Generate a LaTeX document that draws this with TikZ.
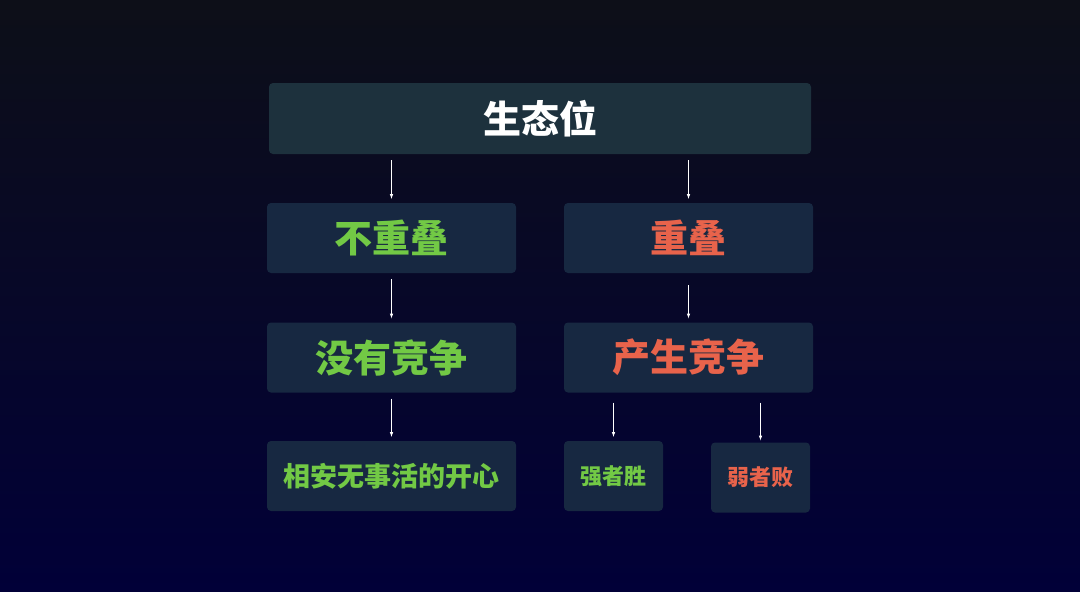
\documentclass[tikz,border=0pt]{standalone}
\usepackage{fontspec}
\newfontfamily\cjk{Noto Sans CJK SC}
\usetikzlibrary{positioning}
\definecolor{bgtop}{HTML}{0D0F18}
\definecolor{bgbot}{HTML}{010038}
\definecolor{boxtop}{HTML}{1D313D}
\definecolor{boxfill}{HTML}{172841}
\definecolor{okgreen}{HTML}{72C945}
\definecolor{badred}{HTML}{E8634B}
\begin{document}
\begin{tikzpicture}
[x=1pt,y=-1pt,
 box/.style={shape=rectangle,rounded corners=4pt,fill=boxfill,inner sep=0pt,
   minimum width=249pt,minimum height=70pt,font=\cjk\bfseries\fontsize{38}{40}\selectfont},
 small/.style={box,minimum width=99pt,font=\cjk\bfseries\fontsize{22}{24}\selectfont},
 good/.style={text=okgreen},
 bad/.style={text=badred},
 link/.style={draw=white,line width=0.6pt,-latex,shorten <=6pt,shorten >=4pt}]

\shade[top color=bgtop,bottom color=bgbot] (0,0) rectangle (1080,592);
\useasboundingbox (0,0) rectangle (1080,592);

\node (niche) [box,fill=boxtop,text=white,minimum width=542pt,minimum height=71pt]
  at (540,118.5) {生态位};

\node (nolap) [box,good] at (391.5,238) {不重叠};
\node (lap) [box,bad] at (688.5,238) {重叠};
\node (nocomp) [box,good] at (391.5,357.5) {没有竞争};
\node (comp) [box,bad] at (688.5,357.5) {产生竞争};
\node (peace) [box,good,font=\cjk\bfseries\fontsize{27}{29}\selectfont] at (391.5,476) {相安无事活的开心};
\node (win) [small,good] at (613.5,476) {强者胜};
\node (lose) [small,bad] at (760.5,477.5) {弱者败};

\draw [link] (niche.south -| nolap.north) -- (nolap);
\draw [link] (niche.south -| lap.north) -- (lap);
\draw [link] (nolap) -- (nocomp);
\draw [link,shorten <=12pt] (lap) -- (comp);
\draw [link] (nocomp) -- (peace);
\draw [link,shorten <=10pt] (comp.south -| win.north) -- (win);
\draw [link,shorten <=10pt,shorten >=2pt] (comp.south -| lose.north) -- (lose);
\end{tikzpicture}
\end{document}
